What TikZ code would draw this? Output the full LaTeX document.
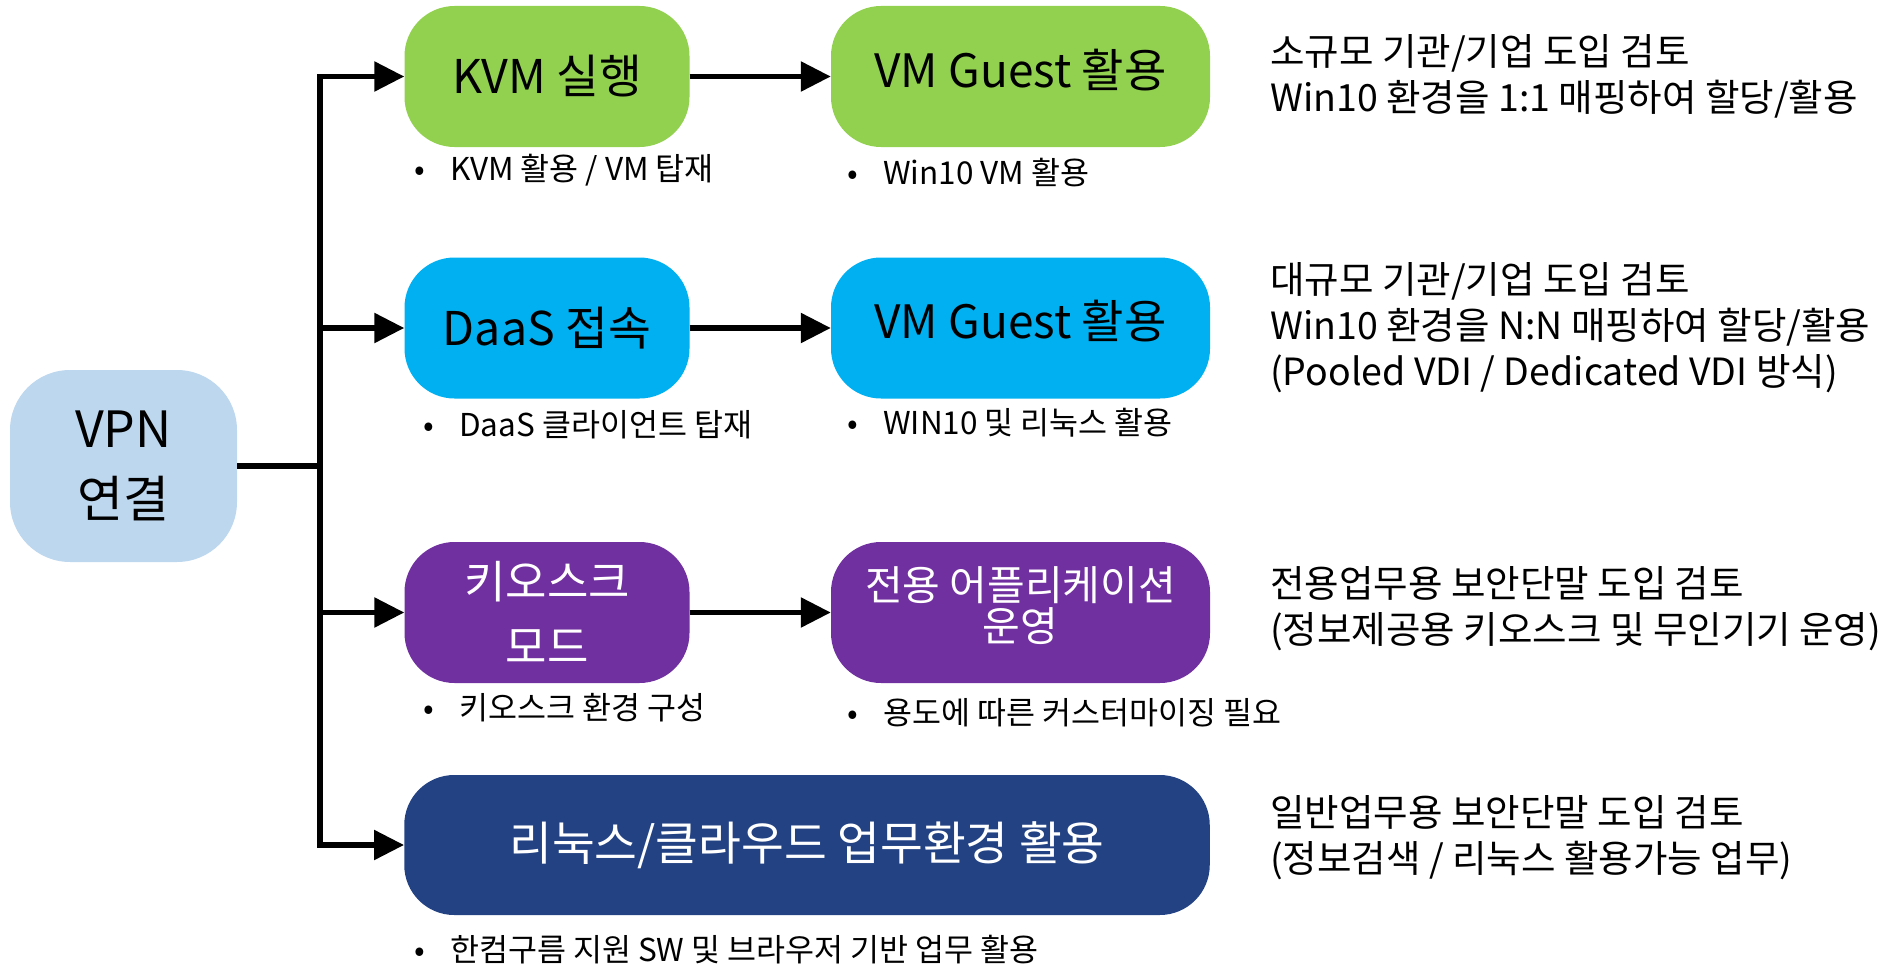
\documentclass[tikz,border=0pt]{standalone}
\usepackage{fontspec}
\setmainfont{Noto Sans CJK KR}
\usetikzlibrary{arrows.meta}
\definecolor{cgreen}{HTML}{92D050}
\definecolor{ccyan}{HTML}{00B0F0}
\definecolor{cpurple}{HTML}{7030A0}
\definecolor{cnavy}{HTML}{224284}
\definecolor{clight}{HTML}{BDD7EE}
\begin{document}
\begin{tikzpicture}[x=1pt,y=1pt,
  box/.style={rounded corners=50pt, inner sep=0pt, minimum height=141pt, draw=none,
    font=\fontsize{46.5}{52}\selectfont},
  boxtext/.style={inner sep=0pt, font=\fontsize{46}{52}\selectfont},
  conn/.style={line width=5.5pt, line join=miter, -{Triangle[length=30pt,width=29pt]}},
  plain/.style={line width=5.5pt, line join=miter},
  bullet/.style={anchor=west, inner sep=0pt, font=\fontsize{31.5}{36}\selectfont},
  note/.style={anchor=west, inner sep=0pt, align=left, font=\fontsize{37.5}{46}\selectfont}]
\path[use as bounding box] (0,0) rectangle (1888,-966);

% left node
\node[box, fill=clight, rounded corners=60pt, minimum width=227pt, minimum height=192pt,
  align=center, font=\fontsize{50}{70}\selectfont] (vpn) at (123.5,-466) {VPN\\연결};

% row 1
\node[box, fill=cgreen, minimum width=285pt] (kvm) at (547,-76.5) {KVM 실행};
\node[box, fill=cgreen, minimum width=379pt] (vm1) at (1020.5,-76.5) {};
\node[boxtext] (vm1t) at (1020.5,-70) {VM Guest 활용};
% row 2
\node[box, fill=ccyan, minimum width=285pt] (daas) at (547,-328) {DaaS 접속};
\node[box, fill=ccyan, minimum width=379pt] (vm2) at (1020.5,-328) {};
\node[boxtext] (vm2t) at (1020.5,-321) {VM Guest 활용};
% row 3
\node[box, fill=cpurple, text=white, minimum width=285pt, align=center,
  font=\fontsize{45}{65}\selectfont] (kiosk) at (547,-612.5) {키오스크\\모드};
\node[box, fill=cpurple, minimum width=379pt] (app) at (1020.5,-612.5) {};
\node[boxtext, text=white, align=center, font=\fontsize{41}{41}\selectfont] (appt) at (1020.5,-606) {전용 어플리케이션\\운영};
% row 4
\node[box, fill=cnavy, text=white, minimum width=805.5pt, minimum height=140pt] (linux) at (807,-845) {리눅스/클라우드 업무환경 활용};

% connectors
\coordinate (tt) at (320,-76.5);
\coordinate (tb) at (320,-845);
\draw[plain] (vpn.east) -- (vpn.east -| tt);
\draw[conn] (tb) -- (tt) -- (kvm.west);
\draw[conn] (tt) -- (tb) -- (linux.west);
\draw[conn] (tt |- daas.west) -- (daas.west);
\draw[conn] (tt |- kiosk.west) -- (kiosk.west);
\draw[conn] (kvm.east) -- (vm1.west);
\draw[conn] (daas.east) -- (vm2.west);
\draw[conn] (kiosk.east) -- (app.west);

% bullets
\node[bullet] (b1) at (414,-170) {\makebox[36pt][l]{•}KVM 활용 / VM 탑재};
\node[bullet] (b2) at (847,-173) {\makebox[36pt][l]{•}Win10 VM 활용};
\node[bullet] (b3) at (423,-425) {\makebox[36pt][l]{•}DaaS 클라이언트 탑재};
\node[bullet] (b4) at (847,-423) {\makebox[36pt][l]{•}WIN10 및 리눅스 활용};
\node[bullet] (b5) at (423,-708) {\makebox[36pt][l]{•}키오스크 환경 구성};
\node[bullet] (b6) at (847,-713) {\makebox[36pt][l]{•}용도에 따른 커스터마이징 필요};
\node[bullet] (b7) at (414,-950) {\makebox[36pt][l]{•}한컴구름 지원 SW 및 브라우저 기반 업무 활용};

% right notes
\node[note] (n1) at (1270,-76) {소규모 기관/기업 도입 검토\\Win10 환경을 1:1 매핑하여 할당/활용};
\node[note] (n2) at (1270,-328) {대규모 기관/기업 도입 검토\\Win10 환경을 N:N 매핑하여 할당/활용\\(Pooled VDI / Dedicated VDI 방식)};
\node[note] (n3) at (1270,-609) {전용업무용 보안단말 도입 검토\\(정보제공용 키오스크 및 무인기기 운영)};
\node[note] (n4) at (1270,-838) {일반업무용 보안단말 도입 검토\\(정보검색 / 리눅스 활용가능 업무)};
\end{tikzpicture}
\end{document}
